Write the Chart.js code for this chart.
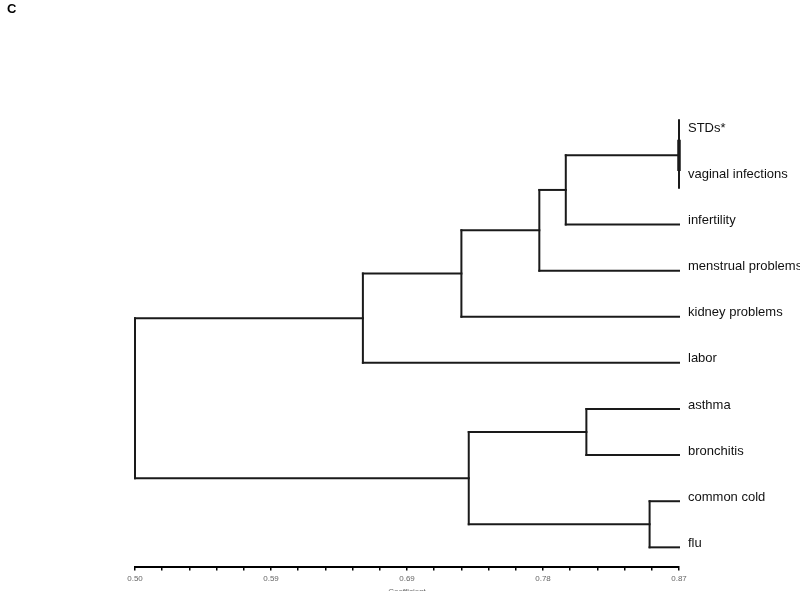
<!DOCTYPE html>
<html>
<head>
<meta charset="utf-8">
<script src="https://cdn.jsdelivr.net/npm/chart.js@4/dist/chart.umd.min.js"></script>
<style>
  html, body { margin: 0; padding: 0; background: #fff; overflow: hidden; }
  #wrap { width: 800px; height: 596px; position: relative; }
</style>
</head>
<body>
<div id="wrap"><canvas id="dendro"></canvas></div>
<script>
// leaves, top to bottom
const leafLabels = ['STDs*', 'vaginal infections', 'infertility', 'menstrual problems',
  'kidney problems', 'labor', 'asthma', 'bronchitis', 'common cold', 'flu'];

// merges: node 10, 11, ... joins mergeLeft[i] and mergeRight[i] at mergeCoef[i]
const mergeLeft  = [0, 10, 11, 12, 13, 6, 8, 15, 14];
const mergeRight = [1, 2, 3, 4, 5, 7, 9, 16, 17];
const mergeCoef  = [0.87, 0.793, 0.775, 0.722, 0.655, 0.807, 0.850, 0.727, 0.50];

// x axis ticks
const xMin = 0.50;
const xMax = 0.87;
const xTickLabels = ['0.50', '0.59', '0.69', '0.78', '0.87'];
const minorPerMajor = 5;

const lineColor = '#1a1a1a';

// build node positions
let nodeX = leafLabels.map(() => xMax);
let nodeY = leafLabels.map((l, i) => i);
let segments = [];

mergeCoef.forEach((c, m) => {
  let a = mergeLeft[m], b = mergeRight[m];
  let thick = (nodeX[a] === c && nodeX[b] === c);  // zero-length branches
  if (!thick) {
    segments.push({ pts: [{ x: nodeX[a], y: nodeY[a] }, { x: c, y: nodeY[a] }], w: 2 });
    segments.push({ pts: [{ x: nodeX[b], y: nodeY[b] }, { x: c, y: nodeY[b] }], w: 2 });
    segments.push({ pts: [{ x: c, y: nodeY[a] }, { x: c, y: nodeY[b] }], w: 2 });
  } else {
    segments.push({ pts: [{ x: c, y: nodeY[a] - 0.26 }, { x: c, y: nodeY[b] + 0.2 }], w: 2 });
    segments.push({ pts: [{ x: c, y: nodeY[a] + 0.2 }, { x: c, y: nodeY[b] - 0.2 }], w: 3.5 });
  }
  nodeX.push(c);
  nodeY.push((nodeY[a] + nodeY[b]) / 2);
});

const datasets = segments.map(s => ({
  data: s.pts,
  showLine: true,
  borderColor: lineColor,
  borderWidth: s.w,
  pointRadius: 0,
  borderCapStyle: 'square',
  clip: false,
  fill: false
}));

// panel letter
const panelLetter = {
  id: 'panelLetter',
  afterDraw(chart) {
    const ctx = chart.ctx;
    ctx.save();
    ctx.font = 'bold 13px "Liberation Sans", Arial, sans-serif';
    ctx.fillStyle = '#000';
    ctx.textBaseline = 'middle';
    ctx.fillText('C', 7, 9);
    ctx.restore();
  }
};

const ctx = document.getElementById('dendro').getContext('2d');
const chart = new Chart(ctx, {
  type: 'scatter',
  data: { datasets: datasets },
  options: {
    responsive: true,
    maintainAspectRatio: false,
    animation: false,
    layout: { padding: { left: 135, top: 20, right: 0, bottom: 0 } },
    plugins: {
      legend: { display: false },
      tooltip: { enabled: false }
    },
    scales: {
      x: {
        type: 'linear',
        position: 'bottom',
        min: xMin,
        max: xMax,
        afterBuildTicks: (scale) => {
          let n = (xTickLabels.length - 1) * minorPerMajor;
          let ticks = [];
          for (let i = 0; i <= n; i++) {
            ticks.push({ value: xMin + (xMax - xMin) * i / n });
          }
          scale.ticks = ticks;
        },
        ticks: {
          autoSkip: false,
          maxRotation: 0,
          padding: 4,
          color: '#666',
          font: { family: '"Liberation Sans", Arial, sans-serif', size: 8 },
          callback: (v, i) => (i % minorPerMajor === 0 ? xTickLabels[i / minorPerMajor] : '')
        },
        grid: {
          drawOnChartArea: false,
          drawTicks: true,
          tickLength: 3,
          color: '#000',
          lineWidth: 1.5
        },
        border: { display: true, color: '#000', width: 2 },
        title: {
          display: true,
          text: 'Coefficient',
          color: '#666',
          font: { family: '"Liberation Sans", Arial, sans-serif', size: 8, lineHeight: 1 },
          padding: { top: 0, bottom: 0 }
        }
      },
      y: {
        type: 'linear',
        position: 'right',
        reverse: true,
        min: -2.435,
        max: 9.435,
        afterBuildTicks: (scale) => {
          scale.ticks = leafLabels.map((l, i) => ({ value: i }));
        },
        afterFit: (scale) => { scale.width = 121; },
        ticks: {
          autoSkip: false,
          padding: 1,
          labelOffset: -4,
          color: '#111',
          font: { family: '"Liberation Sans", Arial, sans-serif', size: 13 },
          callback: (v) => leafLabels[v]
        },
        grid: { display: false },
        border: { display: false }
      }
    }
  },
  plugins: [panelLetter]
});
</script>
</body>
</html>
